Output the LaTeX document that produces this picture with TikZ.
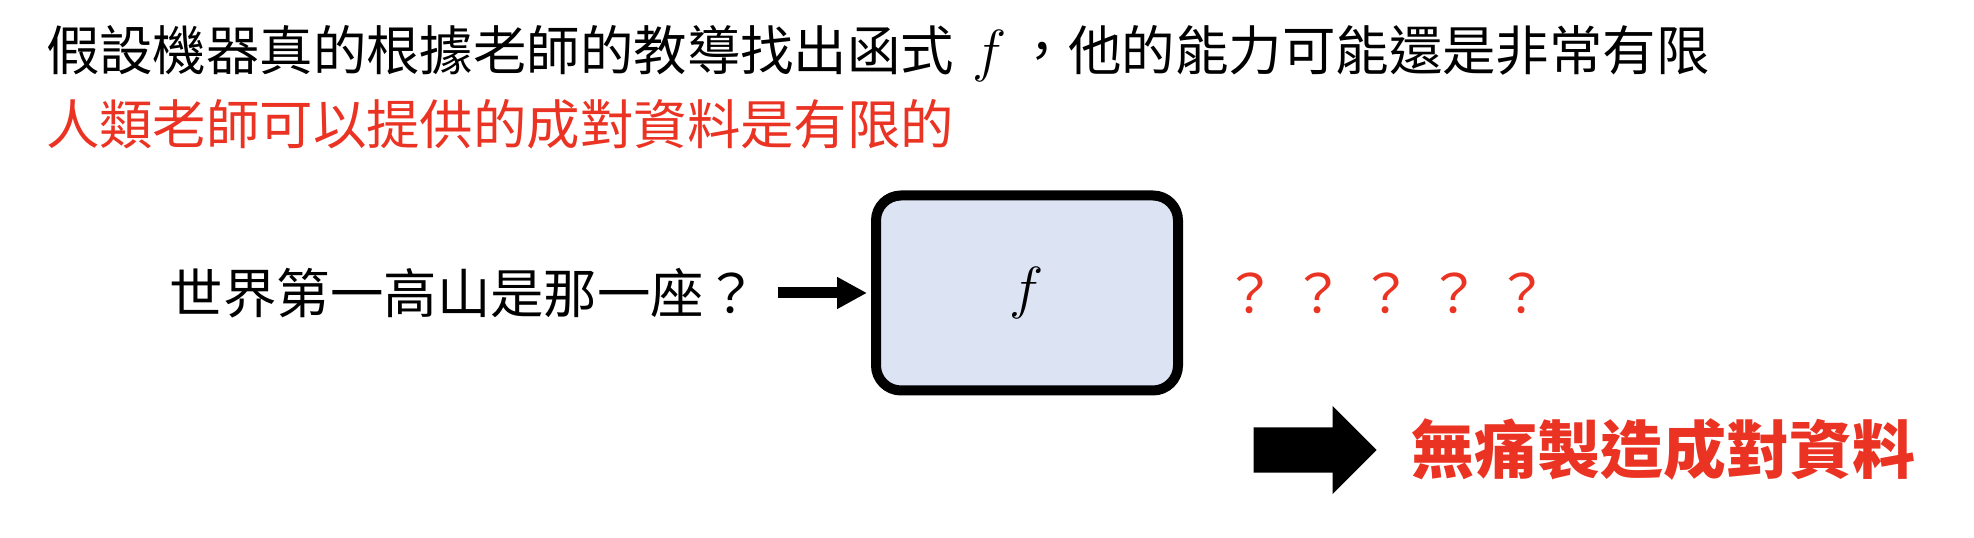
\RequirePackage{fix-cm}
\documentclass[tikz,border=0pt]{standalone}
\usepackage{fontspec}
\usepackage{tikz}
\usetikzlibrary{positioning, arrows.meta, shapes.arrows}
\newfontfamily\zhfont{Noto Sans CJK TC}
\definecolor{slidered}{RGB}{234,51,35}
\definecolor{boxfill}{RGB}{220,227,242}
\newcommand{\funcf}{{\fontsize{16.5pt}{18pt}\selectfont$f$}}

\begin{document}
\begin{tikzpicture}[line/.style={font=\zhfont\fontsize{15.2pt}{18pt}\selectfont, inner sep=0pt, outer sep=0pt, anchor=west, text height=4.71mm, text depth=0.64mm}, qmark/.style={line, anchor=center, text=slidered}, result/.style={font=\zhfont\bfseries\fontsize{17.9pt}{21pt}\selectfont, text=slidered, inner sep=0pt, outer sep=0pt, text height=5.55mm, text depth=0.76mm}, fbox/.style={rectangle, draw=black, fill=boxfill, line width=1mm, rounded corners=2.5mm, minimum width=3.02cm, minimum height=1.95cm}, feed/.style={-{Triangle[length=3mm, width=3mm]}, line width=1.1mm, shorten <=2mm, shorten >=0.4mm}, bigarrow/.style={single arrow, fill=black, inner xsep=0pt, inner ysep=2.2mm, minimum height=1.23cm, single arrow head extend=2.15mm}]

    \useasboundingbox (0,0) rectangle (19.74,5.38);

    % Nodes
    \node[line]                     (assume)    at (0.46,4.88)                  {假設機器真的根據老師的教導找出函式\hspace{0.35em}\funcf\hspace{0.15em}，他的能力可能還是非常有限};
    \node[line, text=slidered]      (limited)   [below=0.74cm of assume.west, anchor=west] {人類老師可以提供的成對資料是有限的};
    \node[line]                     (question)  at (1.70,2.45)                  {世界第一高山是那一座？};
    \node[fbox]                     (func)      at (10.27,2.45)                 {\funcf};
    \foreach \i in {1,...,5}
        \node[qmark] (q\i) at ({11.82+0.68*\i},2.45) {？};
    \node[bigarrow, anchor=tail]    (bigarrow)  at (12.53,0.88)                 {};
    \node[result]                   (noisefree) [right=0.34cm of bigarrow.tip]  {無痛製造成對資料};

    % Lines ---------------
    \draw[feed] (question.east) -- (func.west);

\end{tikzpicture}
\end{document}
